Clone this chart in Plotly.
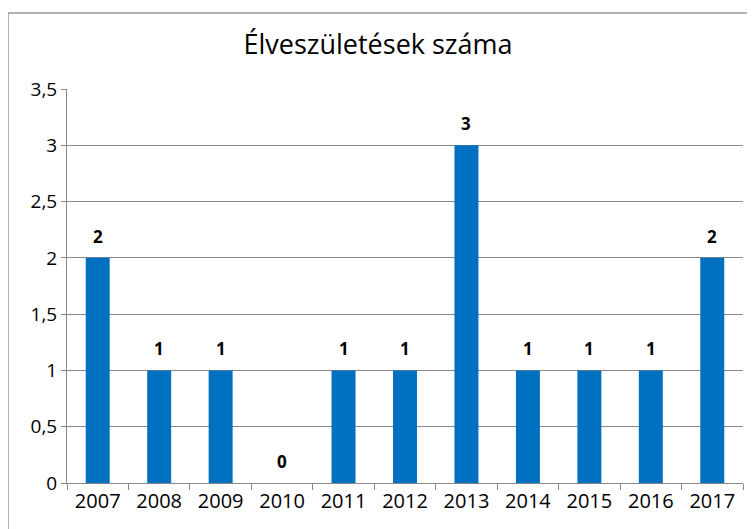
import plotly.graph_objects as go

years = ["2007", "2008", "2009", "2010", "2011", "2012", "2013", "2014", "2015", "2016", "2017"]
births = [2, 1, 1, 0, 1, 1, 3, 1, 1, 1, 2]
y_ticks = [0, 0.5, 1, 1.5, 2, 2.5, 3, 3.5]
y_tick_labels = ["0", "0,5", "1", "1,5", "2", "2,5", "3", "3,5"]
title_text = "Élveszületések száma"

# page body has an 8px margin -> compensate
OFF = 8
W, H = 755, 529
L, T, R, B = 67 - OFF, 89 - OFF, W - (743 - OFF), H - (483 - OFF)
pw, ph = W - L - R, H - T - B

fig = go.Figure(go.Bar(
    x=years, y=births,
    marker=dict(color="#0070C0", line=dict(width=0)),
    hoverinfo="x+y",
))

for i, v in enumerate(births):
    fig.add_annotation(x=i, y=v, text=str(v), showarrow=False,
                       xref="x", yref="y",
                       yanchor="bottom", yshift=8,
                       font=dict(family="Open Sans", size=17, color="#000000", weight="bold"))

fig.update_layout(
    width=W, height=H,
    margin=dict(l=L, r=R, t=T, b=B),
    paper_bgcolor="white", plot_bgcolor="white",
    bargap=0.61,
    showlegend=False,
    title=dict(text=title_text, x=(378 - OFF) / W, xanchor="center", y=1 - (45 - OFF) / H, yanchor="middle",
               font=dict(family="Open Sans", size=27, color="#000000")),
    xaxis=dict(
        type="category",
        categoryorder="array", categoryarray=years,
        range=[-0.5, len(years) - 0.5],
        showline=True, linecolor="#888888", linewidth=1,
        ticks="outside", tickson="boundaries", ticklen=6, tickcolor="#888888",
        tickfont=dict(family="Open Sans", size=20, color="#000000"),
        tickangle=0,
        showgrid=False,
    ),
    yaxis=dict(
        range=[0, 3.5],
        tickvals=y_ticks, ticktext=y_tick_labels,
        showline=True, linecolor="#888888", linewidth=1,
        ticks="outside", ticklen=5, tickcolor="#888888",
        showgrid=True, gridcolor="#888888", gridwidth=1,
        zeroline=False,
        tickfont=dict(family="Open Sans", size=19, color="#000000"),
    ),
    shapes=[dict(type="rect", xref="paper", yref="paper",
                 x0=-(67 - 8) / pw, x1=1.2, y0=-0.3, y1=(483 - 13) / ph,
                 line=dict(color="#999999", width=1.5), fillcolor="rgba(0,0,0,0)", layer="below")],
)

fig.write_html("out.html")
